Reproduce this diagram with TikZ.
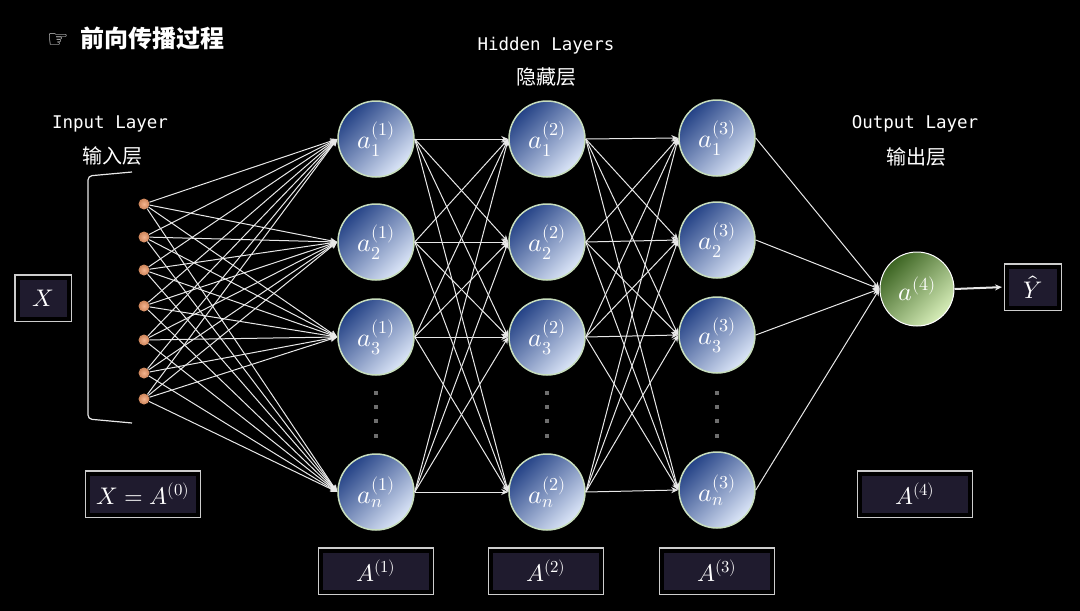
\documentclass[tikz,border=0pt]{standalone}
\usepackage{fontspec}
\usepackage{unicode-math}
\usepackage{xcolor}
\usepackage{tikz}
\usetikzlibrary{positioning,arrows.meta}

\newfontfamily\cjk{Noto Sans CJK SC}
\newfontfamily\lblmono{DejaVu Sans Mono}
\newfontfamily\dejavu{DejaVu Sans}

\definecolor{boxfill}{RGB}{31,27,46}
\definecolor{boxline}{RGB}{205,205,205}
\definecolor{neurondark}{RGB}{36,66,134}
\definecolor{neuronmid}{RGB}{46,80,150}
\definecolor{neuronlight}{RGB}{220,230,248}
\definecolor{neuronrim}{RGB}{200,222,190}
\definecolor{outdark}{RGB}{60,100,34}
\definecolor{outmid}{RGB}{80,124,50}
\definecolor{outlight}{RGB}{215,238,185}
\definecolor{dotorange}{RGB}{240,155,105}
\definecolor{dotgray}{RGB}{110,110,110}
\definecolor{wire}{RGB}{232,232,232}

\begin{document}
\begin{tikzpicture}[x=1pt,y=-1pt,text=white,
    neuron/.style={circle,draw=neuronrim,line width=1.5pt,minimum size=76pt,inner sep=0pt,
      left color=neurondark,middle color=neuronmid,right color=neuronlight,shading angle=45,
      font=\fontsize{26}{30}\selectfont},
    outneuron/.style={circle,draw=white,line width=1pt,minimum size=74pt,inner sep=0pt,
      left color=outdark,middle color=outmid,right color=outlight,shading angle=45,
      font=\fontsize{26}{30}\selectfont},
    indot/.style={circle,inner sep=0pt,minimum size=11pt,inner color=dotorange!75!white,outer color=dotorange!85!black},
    mathbox/.style={rectangle,inner sep=0pt,fill=boxfill,draw=black,line width=4pt,
      preaction={draw=boxline,line width=6.6pt},font=\fontsize{24}{28}\selectfont},
    vdot/.style={rectangle,inner sep=0pt,minimum size=3.5pt,fill=dotgray},
    wire/.style={draw=wire,line width=1pt,-{Stealth[length=7pt,width=6pt]}},
    layerlbl/.style={font=\lblmono\fontsize{17.5}{20}\selectfont},
    cnlbl/.style={font=\cjk\fontsize{20}{24}\selectfont}]

    \fill[black] (0,0) rectangle (1080,611);
    \useasboundingbox (0,0) rectangle (1080,611);

    % title and layer names
    \node[anchor=west,inner sep=0pt] (title) at (47,38)
      {{\dejavu\fontsize{24}{26}\selectfont ☞}\hspace{12pt}{\cjk\bfseries\fontsize{24}{28}\selectfont 前向传播过程}};
    \node[layerlbl] (hidlbl) at (546,46) {Hidden Layers};
    \node[cnlbl] (hidcn) at (546,77) {隐藏层};
    \node[layerlbl] (inlbl) at (110,124) {Input Layer};
    \node[cnlbl] (incn) at (112,156) {输入层};
    \node[layerlbl] (outlbl) at (915,124) {Output Layer};
    \node[cnlbl] (outcn) at (916,157) {输出层};

    % input layer
    \draw[wire,-,line width=1.2pt,rounded corners=4pt] (132,172) -- (88,176) -- (88,419) -- (132,423);
    \node[indot] (x0) at (144,204) {};
    \node[indot] (x1) at (144,237) {};
    \node[indot] (x2) at (144,270) {};
    \node[indot] (x3) at (144,306) {};
    \node[indot] (x4) at (144,340) {};
    \node[indot] (x5) at (144,373) {};
    \node[indot] (x6) at (144,399) {};

    % hidden layers
    \node[neuron] (a11) at (376,139) {$a_1^{(1)}$};
    \node[neuron] (a12) at (376,242) {$a_2^{(1)}$};
    \node[neuron] (a13) at (376,337) {$a_3^{(1)}$};
    \node[neuron] (a1n) at (376,492) {$a_n^{(1)}$};
    \node[neuron] (a21) at (547,139) {$a_1^{(2)}$};
    \node[neuron] (a22) at (547,242) {$a_2^{(2)}$};
    \node[neuron] (a23) at (547,337) {$a_3^{(2)}$};
    \node[neuron] (a2n) at (547,492) {$a_n^{(2)}$};
    \node[neuron] (a31) at (717,138) {$a_1^{(3)}$};
    \node[neuron] (a32) at (717,240) {$a_2^{(3)}$};
    \node[neuron] (a33) at (717,335) {$a_3^{(3)}$};
    \node[neuron] (a3n) at (717,490) {$a_n^{(3)}$};
    \foreach \xx in {376,547,717}
      \foreach \yy [count=\k] in {393,407,421,436}
        \node[vdot] (dot\xx-\k) at (\xx,\yy) {};

    % output layer
    \node[outneuron] (out) at (917,289) {$a^{(4)}$};

    % matrices
    \node[mathbox,minimum width=51pt,minimum height=41pt] (xbox) at (43,298) {$X$};
    \node[mathbox,minimum width=52pt,minimum height=41pt] (yhat) at (1033,287) {$\hat{Y}$};
    \node[mathbox,minimum width=110pt,minimum height=41pt] (A0) at (143,494) {$X=A^{(0)}$};
    \node[mathbox,minimum width=110pt,minimum height=41pt] (A1) at (376,571) {$A^{(1)}$};
    \node[mathbox,minimum width=110pt,minimum height=41pt] (A2) at (546,571) {$A^{(2)}$};
    \node[mathbox,minimum width=110pt,minimum height=41pt] (A3) at (717,571) {$A^{(3)}$};
    \node[mathbox,minimum width=110pt,minimum height=41pt] (A4) at (915,494) {$A^{(4)}$};

    % connections
    \foreach \i in {0,...,6}
      \foreach \j in {1,2,3,n}
        \draw[wire] (x\i) -- (a1\j.west);
    \foreach \i in {1,2,3,n}
      \foreach \j in {1,2,3,n} {
        \draw[wire] (a1\i.east) -- (a2\j.west);
        \draw[wire] (a2\i.east) -- (a3\j.west);
      }
    \foreach \i in {1,2,3,n}
      \draw[wire] (a3\i.east) -- (out.west);
    \draw[wire,line width=2pt,shorten >=3pt] (out.east) -- (yhat.west);
\end{tikzpicture}
\end{document}
